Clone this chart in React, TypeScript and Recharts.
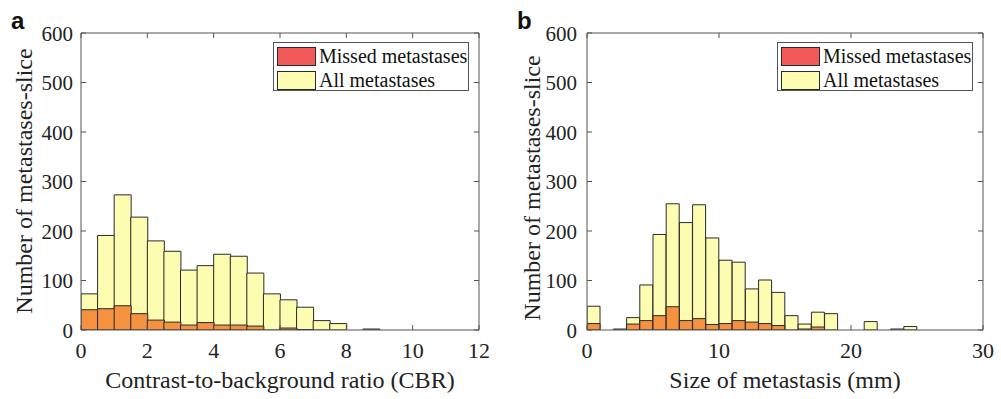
import React from 'react';
import { BarChart, Bar, XAxis, YAxis } from 'recharts';

// histogram counts (bin centres + counts)
const cbrCenters = [0.25, 0.75, 1.25, 1.75, 2.25, 2.75, 3.25, 3.75, 4.25, 4.75, 5.25, 5.75,
  6.25, 6.75, 7.25, 7.75, 8.25, 8.75, 9.25, 9.75, 10.25, 10.75, 11.25, 11.75];
const cbrAll = [73, 191, 273, 228, 180, 159, 121, 130, 153, 149, 115, 73, 61, 46, 19, 13, 0, 2, 0, 0, 0, 0, 0, 0];
const cbrMissed = [41, 43, 49, 33, 20, 16, 10, 15, 10, 10, 8, 0, 4, 1, 0, 0, 0, 0, 0, 0, 0, 0, 0, 0];

const sizeCenters = [0.5, 1.5, 2.5, 3.5, 4.5, 5.5, 6.5, 7.5, 8.5, 9.5, 10.5, 11.5, 12.5, 13.5, 14.5,
  15.5, 16.5, 17.5, 18.5, 19.5, 20.5, 21.5, 22.5, 23.5, 24.5, 25.5, 26.5, 27.5, 28.5, 29.5];
const sizeAll = [48, 0, 2, 25, 91, 193, 255, 217, 253, 186, 141, 137, 83, 101, 76, 29, 12, 36, 33, 0, 0, 17, 0, 2, 7, 0, 0, 0, 0, 0];
const sizeMissed = [13, 0, 0, 12, 19, 29, 47, 19, 23, 11, 13, 19, 16, 13, 9, 0, 2, 6, 0, 0, 0, 0, 0, 0, 0, 0, 0, 0, 0, 0];

const cbrTicks = [0, 2, 4, 6, 8, 10, 12];
const sizeTicks = [0, 10, 20, 30];
const yTicks = [0, 100, 200, 300, 400, 500, 600];

const YELLOW = '#fdfdb2';
const ORANGE = '#f5913f';
const RED = '#f25a5a';
const EDGE = '#2a2a2a';
const FRAME = '#555';
const FONT = '"Liberation Serif", "Times New Roman", serif';

const TL = 5; // inward tick length

const BottomTick = (p: any) => (
  <g>
    <line x1={p.x} x2={p.x} y1={p.y} y2={p.y - TL} stroke={FRAME} />
    <text x={p.x} y={p.y + 28} textAnchor="middle" fontSize={22} fontFamily={FONT} fill="#222">{p.payload.value}</text>
  </g>
);
const TopTick = (p: any) => <line x1={p.x} x2={p.x} y1={p.y} y2={p.y + TL} stroke={FRAME} />;
const makeLeftTick = (gap: number) => (p: any) => (
  <g>
    <line x1={p.x} x2={p.x + TL} y1={p.y} y2={p.y} stroke={FRAME} />
    <text x={p.x - gap} y={p.y + 7.5} textAnchor="end" fontSize={21} fontFamily={FONT} fill="#222">{p.payload.value}</text>
  </g>
);
const RightTick = (p: any) => <line x1={p.x} x2={p.x - TL} y1={p.y} y2={p.y} stroke={FRAME} />;

const Legend = ({ left, top }: { left: number; top: number }) => (
  <div style={{ position: 'absolute', left, top, width: 196, height: 49, border: `1px solid ${FRAME}`, background: '#fff',
    boxSizing: 'border-box', fontFamily: FONT, fontSize: 20, color: '#111' }}>
    {[{ c: RED, t: 'Missed metastases' }, { c: YELLOW, t: 'All metastases' }].map((r, i) => (
      <div key={r.t} style={{ position: 'absolute', left: 3, top: 3 + i * 24, display: 'flex', alignItems: 'center', whiteSpace: 'nowrap' }}>
        <div style={{ width: 37, height: 17, background: r.c, border: `1px solid ${EDGE}`, marginRight: 3 }} />
        <span style={{ lineHeight: '20px' }}>{r.t}</span>
      </div>
    ))}
  </div>
);

type PanelProps = {
  left: number; width: number; plotLeft: number; plotRight: number;
  centers: number[]; all: number[]; missed: number[]; ticks: number[]; xMax: number;
  xTitle: string; letter: string; yLabelX: number; yLabelY: number; tickGap: number;
};

const Panel = ({ left, width, plotLeft, plotRight, centers, all, missed, ticks, xMax, xTitle, letter, yLabelX, yLabelY, tickGap }: PanelProps) => {
  const data = centers.map((x, i) => ({ x, all: all[i], missed: missed[i] }));
  const plotW = width - plotLeft - plotRight;
  const LeftTick = makeLeftTick(tickGap);
  return (
    <div style={{ position: 'absolute', left, top: 0, width, height: 399 }}>
      <BarChart width={width} height={399} data={data} barCategoryGap={0} barGap={0}
        margin={{ top: 32, right: plotRight - 1, bottom: 0, left: 0 }}>
        <XAxis xAxisId="num" dataKey="x" type="number" domain={[0, xMax]} ticks={ticks} allowDataOverflow height={69}
          axisLine={{ stroke: FRAME }} tickLine={false} tickSize={0} tickMargin={0} tick={<BottomTick />} interval={0}
          label={{ content: () => (
            <text x={plotLeft + plotW / 2} y={388} textAnchor="middle" fontSize={24} fontFamily={FONT} fill="#222">{xTitle}</text>
          ) }} />
        <XAxis xAxisId="top" dataKey="x" orientation="top" type="number" domain={[0, xMax]} ticks={ticks} allowDataOverflow height={1}
          axisLine={{ stroke: FRAME }} tickLine={false} tickSize={0} tickMargin={0} tick={<TopTick />} interval={0} />
        <YAxis yAxisId="l" domain={[0, 600]} ticks={yTicks} allowDataOverflow width={plotLeft}
          axisLine={{ stroke: FRAME }} tickLine={false} tickSize={0} tickMargin={0} tick={<LeftTick />} interval={0}
          label={{ content: () => (
            <text x={yLabelX} y={yLabelY} transform={`rotate(-90 ${yLabelX} ${yLabelY})`} textAnchor="middle"
              fontSize={24} fontFamily={FONT} fill="#222">Number of metastases-slice</text>
          ) }} />
        <YAxis yAxisId="r" orientation="right" domain={[0, 600]} ticks={yTicks} allowDataOverflow width={1}
          axisLine={{ stroke: FRAME }} tickLine={false} tickSize={0} tickMargin={0} tick={<RightTick />} interval={0} />
        <Bar xAxisId="num" yAxisId="l" dataKey="all" fill={YELLOW} stroke={EDGE} strokeWidth={1} isAnimationActive={false} />
        <Bar xAxisId="top" yAxisId="r" dataKey="missed" fill={ORANGE} stroke={EDGE} strokeWidth={1} isAnimationActive={false} />
      </BarChart>
      <Legend left={plotLeft + plotW - 206} top={42} />
      <div style={{ position: 'absolute', left: plotLeft - 70, top: 7, fontFamily: '"Liberation Sans", Arial, sans-serif',
        fontWeight: 'bold', fontSize: 24, color: '#111' }}>{letter}</div>
    </div>
  );
};

export default function App() {
  return (
    <div style={{ position: 'absolute', left: 0, top: 0, width: 1001, height: 399, background: '#fff' }}>
      <Panel left={0} width={500} plotLeft={81} plotRight={21} centers={cbrCenters} all={cbrAll} missed={cbrMissed}
        ticks={cbrTicks} xMax={12} xTitle="Contrast-to-background ratio (CBR)" letter="a" yLabelX={32} yLabelY={181} tickGap={8} />
      <Panel left={500} width={501} plotLeft={87} plotRight={18} centers={sizeCenters} all={sizeAll} missed={sizeMissed}
        ticks={sizeTicks} xMax={30} xTitle="Size of metastasis (mm)" letter="b" yLabelX={40} yLabelY={188} tickGap={10} />
    </div>
  );
}
